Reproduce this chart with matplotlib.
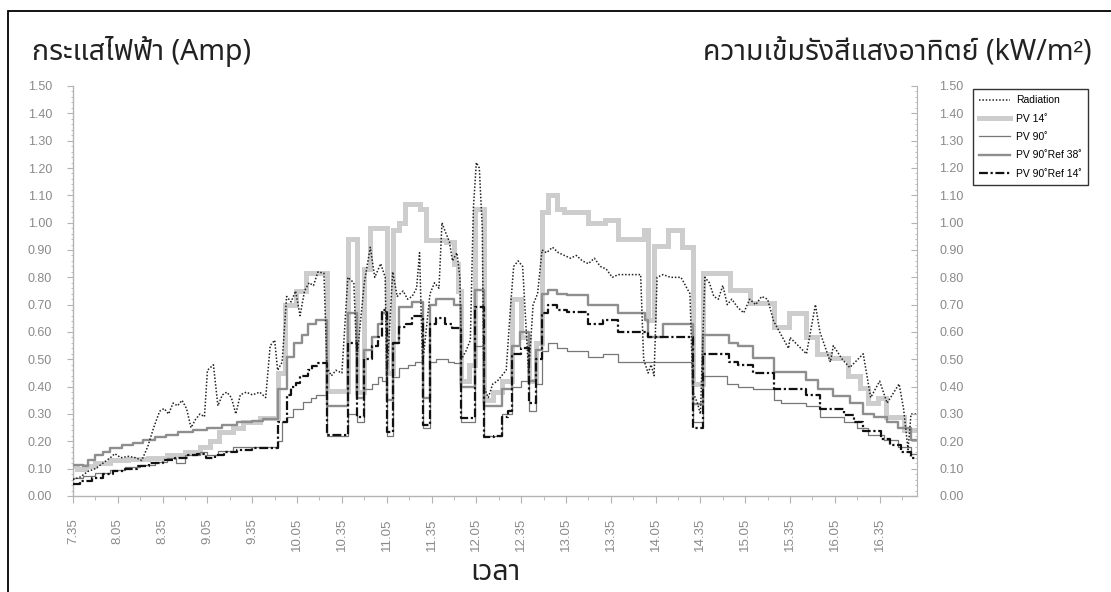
import matplotlib
matplotlib.use("Agg")
import matplotlib.pyplot as plt
import numpy as np
from matplotlib import font_manager
from matplotlib.ft2font import FT2Font
from matplotlib.patches import Rectangle
from matplotlib.ticker import MultipleLocator

START = 7 * 60 + 35

tick_labels = ["7.35", "8.05", "8.35", "9.05", "9.35", "10.05", "10.35", "11.05", "11.35",
               "12.05", "12.35", "13.05", "13.35", "14.05", "14.35", "15.05", "15.35", "16.05", "16.35"]

# PV 14 deg (thick light grey)
pv14_t = ["7:35", "7:38", "7:44", "7:50", "8:00", "8:12", "8:25", "8:38", "8:50", "9:00", "9:07",
          "9:13", "9:22", "9:29", "9:40", "9:52", "9:57", "10:04", "10:11", "10:25", "10:39", "10:45",
          "10:50", "10:54", "11:05", "11:09", "11:13", "11:17", "11:27", "11:31", "11:45", "11:50",
          "11:53", "11:55", "12:00", "12:04", "12:10", "12:16", "12:22", "12:29", "12:35", "12:40",
          "12:45", "12:49", "12:53", "12:59", "13:04", "13:20", "13:31", "13:40", "13:57", "14:00",
          "14:04", "14:13", "14:23", "14:30", "14:37", "14:55", "15:08", "15:24", "15:34", "15:46",
          "15:53", "16:02", "16:14", "16:22", "16:27", "16:34", "16:39", "16:51", "17:00"]
pv14_v = [0.11, 0.10, 0.11, 0.12, 0.13, 0.135, 0.14, 0.15, 0.16, 0.18, 0.20,
          0.235, 0.25, 0.27, 0.285, 0.45, 0.70, 0.75, 0.815, 0.385, 0.94, 0.38,
          0.83, 0.98, 0.45, 0.975, 1.00, 1.07, 1.05, 0.935, 0.93, 0.85,
          0.75, 0.42, 0.48, 1.05, 0.35, 0.38, 0.42, 0.72, 0.58, 0.42,
          0.56, 1.04, 1.10, 1.05, 1.04, 1.00, 1.01, 0.94, 0.975, 0.645,
          0.915, 0.975, 0.91, 0.41, 0.815, 0.755, 0.705, 0.62, 0.67, 0.58,
          0.52, 0.505, 0.44, 0.395, 0.34, 0.36, 0.29, 0.24, 0.24]

# PV 90 deg, thin line
pv90_t = ["7:35", "7:42", "7:50", "8:00", "8:10", "8:20", "8:30", "8:38", "8:44", "8:50", "9:00",
          "9:05", "9:12", "9:22", "9:40", "9:52", "9:55", "9:58", "10:02", "10:09", "10:14", "10:18",
          "10:25", "10:39", "10:45", "10:50", "10:55", "10:59", "11:02", "11:05", "11:09", "11:13",
          "11:19", "11:24", "11:29", "11:34", "11:38", "11:46", "11:50", "11:55", "12:04", "12:10",
          "12:22", "12:29", "12:35", "12:40", "12:45", "12:49", "12:53", "12:59", "13:06", "13:20",
          "13:30", "13:40", "14:30", "14:37", "14:53", "15:00", "15:10", "15:24", "15:29", "15:46",
          "15:55", "16:11", "16:20", "16:27", "16:38", "16:47", "16:56", "17:00"]
pv90_v = [0.065, 0.075, 0.085, 0.095, 0.105, 0.115, 0.125, 0.14, 0.12, 0.15, 0.16,
          0.15, 0.165, 0.18, 0.18, 0.20, 0.27, 0.29, 0.32, 0.345, 0.36, 0.37,
          0.22, 0.30, 0.27, 0.39, 0.41, 0.435, 0.42, 0.22, 0.435, 0.47,
          0.48, 0.49, 0.25, 0.49, 0.50, 0.49, 0.485, 0.27, 0.55, 0.22,
          0.30, 0.40, 0.42, 0.31, 0.41, 0.53, 0.56, 0.54, 0.53, 0.51,
          0.52, 0.49, 0.27, 0.44, 0.41, 0.40, 0.39, 0.35, 0.34, 0.33,
          0.29, 0.27, 0.25, 0.225, 0.205, 0.18, 0.155, 0.155]

# PV 90 deg with 38 deg reflector
ref38_t = ["7:35", "7:42", "7:45", "7:50", "7:55", "8:00", "8:08", "8:15", "8:22", "8:30", "8:37",
           "8:45", "8:55", "9:05", "9:15", "9:25", "9:35", "9:42", "9:52", "9:58", "10:03", "10:08",
           "10:12", "10:18", "10:25", "10:39", "10:45", "10:50", "10:55", "10:59", "11:02", "11:05",
           "11:09", "11:13", "11:22", "11:29", "11:34", "11:38", "11:50", "11:55", "12:04", "12:10",
           "12:22", "12:29", "12:34", "12:40", "12:45", "12:49", "12:53", "12:59", "13:06", "13:20",
           "13:40", "13:58", "14:00", "14:10", "14:30", "14:37", "14:54", "15:00", "15:10", "15:24",
           "15:46", "15:54", "16:04", "16:15", "16:24", "16:31", "16:40", "16:47", "16:56", "17:00"]
ref38_v = [0.115, 0.11, 0.13, 0.15, 0.16, 0.175, 0.185, 0.195, 0.205, 0.215, 0.225,
           0.235, 0.24, 0.25, 0.26, 0.27, 0.275, 0.28, 0.39, 0.51, 0.56, 0.59,
           0.63, 0.645, 0.33, 0.67, 0.36, 0.535, 0.58, 0.63, 0.67, 0.35,
           0.56, 0.69, 0.71, 0.36, 0.70, 0.72, 0.70, 0.40, 0.755, 0.33,
           0.39, 0.55, 0.60, 0.42, 0.535, 0.74, 0.755, 0.74, 0.735, 0.70,
           0.67, 0.645, 0.58, 0.63, 0.335, 0.59, 0.56, 0.55, 0.505, 0.455,
           0.425, 0.39, 0.365, 0.34, 0.30, 0.29, 0.27, 0.25, 0.205, 0.205]

# PV 90 deg with 14 deg reflector
ref14_t = ["7:35", "7:40", "7:48", "7:55", "8:02", "8:10", "8:18", "8:26", "8:35", "8:43", "8:52",
           "8:58", "9:04", "9:10", "9:16", "9:25", "9:35", "9:52", "9:58", "10:01", "10:04", "10:07",
           "10:12", "10:15", "10:19", "10:25", "10:39", "10:45", "10:50", "10:55", "10:59", "11:02",
           "11:05", "11:09", "11:13", "11:18", "11:22", "11:29", "11:34", "11:38", "11:44", "11:49",
           "11:55", "12:04", "12:10", "12:17", "12:22", "12:26", "12:29", "12:35", "12:40", "12:45",
           "12:49", "12:53", "12:59", "13:06", "13:20", "13:30", "13:40", "14:00", "14:30", "14:37",
           "14:54", "15:00", "15:10", "15:24", "15:46", "15:55", "16:11", "16:18", "16:24", "16:36",
           "16:42", "16:49", "16:56", "17:00"]
ref14_v = [0.045, 0.055, 0.065, 0.08, 0.09, 0.10, 0.11, 0.12, 0.13, 0.14, 0.15,
           0.155, 0.14, 0.15, 0.16, 0.17, 0.175, 0.27, 0.37, 0.40, 0.415, 0.44,
           0.46, 0.475, 0.485, 0.225, 0.56, 0.29, 0.50, 0.55, 0.58, 0.68,
           0.235, 0.56, 0.62, 0.63, 0.66, 0.26, 0.63, 0.65, 0.63, 0.615,
           0.285, 0.69, 0.215, 0.22, 0.29, 0.31, 0.52, 0.54, 0.34, 0.50,
           0.67, 0.70, 0.68, 0.675, 0.63, 0.645, 0.60, 0.58, 0.25, 0.52,
           0.49, 0.48, 0.45, 0.39, 0.37, 0.32, 0.297, 0.272, 0.236, 0.21,
           0.187, 0.162, 0.138, 0.138]

# solar radiation, kW/m2
rad_t = ["7:35", "7:40", "7:45", "7:50", "7:55", "8:00", "8:03", "8:07", "8:12", "8:17", "8:21",
         "8:25", "8:29", "8:33", "8:36", "8:39", "8:42", "8:45", "8:48", "8:51", "8:54", "8:57",
         "9:00", "9:03", "9:05", "9:09", "9:12", "9:15", "9:18", "9:21", "9:24", "9:27", "9:31",
         "9:35", "9:40", "9:44", "9:47", "9:50", "9:52", "9:55", "9:58", "10:01", "10:04", "10:07",
         "10:10", "10:13", "10:16", "10:19", "10:23", "10:25", "10:28", "10:31", "10:35", "10:39",
         "10:43", "10:45", "10:50", "10:54", "10:57", "11:01", "11:04", "11:05", "11:09", "11:12",
         "11:16", "11:19", "11:22", "11:25", "11:27", "11:29", "11:34", "11:37", "11:40", "11:42",
         "11:44", "11:47", "11:49", "11:52", "11:54", "11:55", "11:58", "12:01", "12:03", "12:05",
         "12:07", "12:09", "12:10", "12:13", "12:16", "12:19", "12:22", "12:25", "12:28", "12:30",
         "12:33", "12:36", "12:39", "12:40", "12:43", "12:46", "12:49", "12:52", "12:56", "13:00",
         "13:04", "13:08", "13:12", "13:16", "13:20", "13:24", "13:28", "13:32", "13:36", "13:40",
         "13:55", "13:57", "14:00", "14:02", "14:04", "14:06", "14:10", "14:15", "14:22", "14:26",
         "14:28", "14:30", "14:33", "14:35", "14:38", "14:41", "14:44", "14:47", "14:50", "14:53",
         "14:56", "15:00", "15:04", "15:08", "15:12", "15:16", "15:20", "15:24", "15:26", "15:34",
         "15:35", "15:46", "15:52", "15:55", "16:02", "16:04", "16:10", "16:15", "16:24", "16:29",
         "16:35", "16:40", "16:48", "16:51", "16:54", "16:56", "17:00"]
rad_v = [0.06, 0.07, 0.09, 0.10, 0.12, 0.14, 0.155, 0.14, 0.145, 0.14, 0.13,
         0.18, 0.25, 0.31, 0.32, 0.30, 0.34, 0.33, 0.35, 0.32, 0.25, 0.28,
         0.30, 0.29, 0.46, 0.48, 0.33, 0.37, 0.38, 0.36, 0.30, 0.37, 0.38,
         0.37, 0.38, 0.36, 0.55, 0.57, 0.46, 0.49, 0.73, 0.71, 0.75, 0.66,
         0.75, 0.78, 0.77, 0.82, 0.815, 0.47, 0.44, 0.46, 0.45, 0.80,
         0.78, 0.50, 0.78, 0.91, 0.80, 0.85, 0.80, 0.42, 0.82, 0.73,
         0.75, 0.72, 0.73, 0.76, 0.89, 0.48, 0.74, 0.78, 0.76, 1.00,
         0.97, 0.93, 0.86, 0.89, 0.80, 0.50, 0.53, 0.57, 1.05, 1.22,
         1.20, 0.98, 0.40, 0.36, 0.41, 0.42, 0.44, 0.46, 0.70, 0.84,
         0.86, 0.84, 0.55, 0.45, 0.70, 0.74, 0.90, 0.89, 0.91, 0.89,
         0.88, 0.87, 0.88, 0.86, 0.85, 0.87, 0.84, 0.83, 0.80, 0.81,
         0.81, 0.50, 0.45, 0.48, 0.44, 0.80, 0.81, 0.80, 0.80, 0.76,
         0.74, 0.38, 0.34, 0.30, 0.80, 0.78, 0.73, 0.72, 0.77, 0.70,
         0.72, 0.69, 0.67, 0.72, 0.70, 0.73, 0.72, 0.64, 0.62, 0.54,
         0.58, 0.52, 0.70, 0.60, 0.49, 0.55, 0.50, 0.47, 0.52, 0.36,
         0.42, 0.34, 0.41, 0.32, 0.17, 0.30, 0.30]


def to_min(times):
    out = []
    for t in times:
        h, m = t.split(":")
        out.append(int(h) * 60 + int(m) - START)
    return np.array(out)


def find_thai_font():
    preferred = ["Noto Sans Thai", "Noto Sans Thai UI", "Loma", "Garuda", "Sawasdee",
                 "Laksaman", "Norasi", "Kinnari", "Umpush", "Waree", "Tlwg Typo"]
    found = set()
    for f in font_manager.fontManager.ttflist:
        try:
            if 0x0E01 in FT2Font(f.fname).get_charmap():
                found.add(f.name)
        except Exception:
            pass
    for name in preferred:
        if name in found:
            return name
    return sorted(found)[0] if found else None


thai = find_thai_font()
title_family = ([thai] if thai else []) + ["Liberation Sans", "DejaVu Sans"]
plt.rcParams["font.family"] = ["Liberation Sans", "DejaVu Sans"]

W, H = 1111, 592
fig = plt.figure(figsize=(W / 100, H / 100), dpi=100)
ax = fig.add_axes([73 / W, 1 - 496 / H, (917 - 73) / W, (496 - 86) / H])

axis_grey = "#b4b4b4"
label_grey = "#8a8a8a"

h14, = ax.plot(to_min(pv14_t), pv14_v, drawstyle="steps-post", color="#cdcdcd", lw=3.6,
               solid_joinstyle="miter", label="PV 14˚", zorder=2)
h38, = ax.plot(to_min(ref38_t), ref38_v, drawstyle="steps-post", color="#8e8e8e", lw=1.7,
               label="PV 90˚Ref 38˚", zorder=3)
h90, = ax.plot(to_min(pv90_t), pv90_v, drawstyle="steps-post", color="#777777", lw=0.9,
               label="PV 90˚", zorder=4)
hr14, = ax.plot(to_min(ref14_t), ref14_v, drawstyle="steps-post", color="#111111", lw=1.6,
                linestyle=(0, (4, 1.2, 1, 1.2)), label="PV 90˚Ref 14˚", zorder=5)
hrad, = ax.plot(to_min(rad_t), rad_v, color="#222222", lw=1.1, linestyle=(0, (1, 1.2)),
                label="Radiation", zorder=6)

ax.set_xlim(0, 565)
ax.set_ylim(0, 1.5)
ax.set_xticks(np.arange(0, 541, 30))
ax.set_xticklabels(tick_labels, rotation=90)
ax.xaxis.set_minor_locator(MultipleLocator(15))
yt = np.round(np.arange(0, 1.51, 0.1), 2)
ax.set_yticks(yt)
ax.set_yticklabels([f"{v:.2f}" for v in yt])
ax.yaxis.set_minor_locator(MultipleLocator(0.02))

ax.tick_params(axis="x", which="major", length=5, color=axis_grey, labelsize=9.5,
               labelcolor=label_grey, pad=11)
ax.tick_params(axis="x", which="minor", length=3, color=axis_grey)
ax.tick_params(axis="y", which="major", length=4, color=axis_grey, labelsize=9,
               labelcolor=label_grey, pad=11)
ax.tick_params(axis="y", which="minor", length=1.5, color=axis_grey)
for side in ["top", "right"]:
    ax.spines[side].set_visible(False)
for side in ["left", "bottom"]:
    ax.spines[side].set_color(axis_grey)
    ax.spines[side].set_linewidth(1.0)

ax2 = ax.twinx()
ax2.set_ylim(0, 1.5)
ax2.set_yticks(yt)
ax2.set_yticklabels([f"{v:.2f}" for v in yt])
ax2.yaxis.set_minor_locator(MultipleLocator(0.02))
ax2.tick_params(axis="y", which="major", direction="in", length=4, color=axis_grey,
                labelsize=9, labelcolor=label_grey, pad=16)
ax2.tick_params(axis="y", which="minor", direction="in", length=1.5, color=axis_grey)
for side in ["top", "left", "bottom"]:
    ax2.spines[side].set_visible(False)
ax2.spines["right"].set_color(axis_grey)

leg = fig.legend(handles=[hrad, h14, h90, h38, hr14], loc="upper left",
                 bbox_to_anchor=(968 / W, 1 - 84 / H), bbox_transform=fig.transFigure,
                 fontsize=7.5, frameon=True, fancybox=False, edgecolor="black",
                 handlelength=2.9, handletextpad=0.6, labelspacing=0.8, borderpad=0.6)
leg.get_frame().set_linewidth(1.0)

title_kw = dict(fontsize=20.5, color="#222222", family=title_family, va="baseline")
fig.text(32 / W, 1 - 60 / H, "กระแสไฟฟ้า (Amp)", ha="left", **title_kw)
fig.text(1092 / W, 1 - 60 / H, "ความเข้มรังสีแสงอาทิตย์ (kW/m²)", ha="right", **title_kw)
fig.text(495 / W, 1 - 580 / H, "เวลา", ha="center", **title_kw)

fig.add_artist(Rectangle((8 / W, -0.1), 1.2, (1 - 11 / H) + 0.1, transform=fig.transFigure,
                         fill=False, edgecolor="black", lw=1.3, clip_on=False))

fig.savefig("out.png", dpi=100)
